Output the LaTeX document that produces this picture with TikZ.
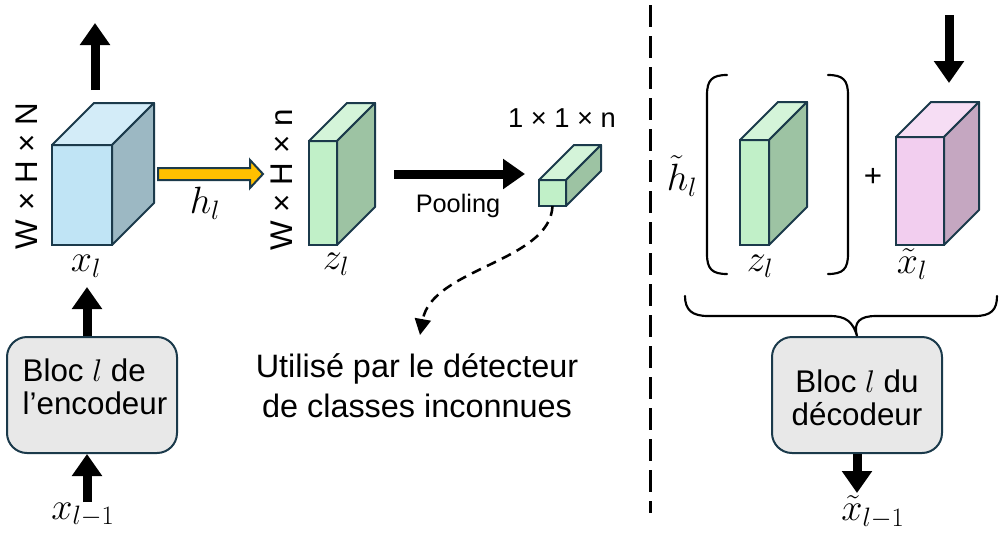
\documentclass[tikz,border=0pt]{standalone}
\usepackage{fix-cm}
\usepackage{fontspec}
\setmainfont{Liberation Sans}
\usetikzlibrary{arrows.meta}
\definecolor{edge}{HTML}{1B3A4B}
\definecolor{bluefront}{HTML}{C0E4F5}
\definecolor{blueside}{HTML}{9CB8C3}
\definecolor{greenfront}{HTML}{C1F0C8}
\definecolor{greenside}{HTML}{9DC3A3}
\definecolor{pinkfront}{HTML}{F2CEEF}
\definecolor{pinkside}{HTML}{C5A7C1}
\definecolor{boxfill}{HTML}{E8E8E8}
\definecolor{arrowyellow}{HTML}{FFC000}
% name, x, y (front top-left), w, h, depth, front colour, side colour
\newcommand{\mycube}[8]{%
  \node[cubeface, fill=#7, minimum width=#4*0.75pt, minimum height=#5*0.75pt, anchor=north west] (#1) at (#2,#3) {};
  \filldraw[cubeline, fill=#7!70!white] (#2,#3) -- ++(#6,-#6) -- ++(#4,0) -- ++(-#6,#6) -- cycle;
  \filldraw[cubeline, fill=#8] (#2+#4,#3) -- ++(#6,-#6) -- ++(0,#5) -- ++(-#6,#6) -- cycle;
}
\tikzset{
  cubeline/.style={draw=edge, line width=1.5pt, line join=round},
  cubeface/.style={draw=edge, line width=1.5pt, inner sep=0pt, outer sep=0pt},
  blk/.style={line width=6.75pt, -{Triangle[width=21.75pt,length=16.5pt]}},
  blockbox/.style={draw=edge, fill=boxfill, line width=1.5pt, rounded corners=15pt, minimum width=127.5pt, minimum height=87pt},
  bigtxt/.style={font=\fontsize{23.5}{25}\selectfont, inner sep=0pt},
  midtxt/.style={font=\fontsize{19}{22}\selectfont, inner sep=0pt},
  mathtxt/.style={font=\fontsize{28.5}{30}\selectfont, inner sep=0pt},
  dashedarrow/.style={line width=1.9pt, dash pattern=on 7.5pt off 5pt, -{Triangle[width=12pt,length=12pt]}},
  bracket/.style={line width=1.6pt, line cap=round},
}
\begin{document}
\begin{tikzpicture}[x=0.75pt,y=-0.75pt]
\useasboundingbox (0,0) rectangle (999,536);

% ---------- encoder side ----------
\mycube{xcube}{52}{145}{60}{100}{42}{bluefront}{blueside}
\node[bigtxt, rotate=90] (dimN) at (27,176) {W × H × N};
\node[mathtxt] (xl) at (86,266) {$x_l$};

\coordinate (topout0) at (95,90);
\coordinate (topout1) at (95,23);
\draw[blk] (topout0) -- (topout1);

\node[blockbox] (enc) at (92,395) {};
\node[bigtxt, align=left] (enctxt) at (95,387) {Bloc $l$ de\\l’encodeur};
\coordinate (encin) at (87,502);
\coordinate (xltip) at (87,287);
\draw[blk] (encin) -- (encin |- enc.south);
\draw[blk] (enc.north -| encin) -- (xltip);
\node[mathtxt] (xlm1) at (83,515) {$x_{l-1}$};

% yellow h_l arrow
\filldraw[draw=edge, fill=arrowyellow, line width=1.5pt, line join=miter]
  (158,168) -- (250,168) -- (250,160) -- (263,174) -- (250,188) -- (250,180) -- (158,180) -- cycle;
\node[mathtxt] (hl) at (205,203) {$h_l$};

% z_l slab
\mycube{zslab}{309}{141}{28}{104}{38}{greenfront}{greenside}
\node[bigtxt, rotate=90] (dimn) at (282,180) {W × H × n};
\node[mathtxt] (zl) at (336,264) {$z_l$};

% pooling
\coordinate (pool0) at (394,174);
\coordinate (pool1) at (525,174);
\draw[blk] (pool0) -- (pool1);
\node[midtxt] (pooltxt) at (458,206) {Pooling};

\mycube{small}{539}{180}{27}{26}{35}{greenfront}{greenside}
\node[midtxt, font=\fontsize{20.5}{22}\selectfont] (dim11n) at (562,118) {1 × 1 × n};

\coordinate (dashend) at (420,335);
\draw[dashedarrow] (small.south) .. controls (550,262) and (432,268) .. (dashend);
\node[bigtxt, align=center, font=\fontsize{24.3}{30}\selectfont] (usage) at (417,386)
  {Utilisé par le détecteur\\de classes inconnues};

% separator
\draw[line width=2.25pt, dash pattern=on 16.5pt off 6.75pt] (650,5) -- (650,513);

% ---------- decoder side ----------
\node[mathtxt] (htl) at (682,176) {$\tilde{h}_l$};
\draw[bracket] (727,75) .. controls (712,75) and (707,80) .. (707,95) -- (707,254) .. controls (707,269) and (712,274) .. (727,274);
\draw[bracket] (828,75) .. controls (843,75) and (848,80) .. (848,95) -- (848,254) .. controls (848,269) and (843,274) .. (828,274);
\mycube{zslab2}{740}{140}{29}{105}{38}{greenfront}{greenside}
\node[mathtxt] (zl2) at (760,266) {$z_l$};
\node[bigtxt] (plus) at (873,177) {+};
\mycube{pcube}{896}{137}{48}{108}{35}{pinkfront}{pinkside}
\node[mathtxt] (xtl) at (912,264) {$\tilde{x}_l$};

\coordinate (rin0) at (949,15);
\coordinate (rin1) at (949,83);
\draw[blk] (rin0) -- (rin1);

\node[blockbox] (dec) at (857,395) {};
\node[bigtxt, align=center] (dectxt) at (857,398) {Bloc $l$ du\\décodeur};

\draw[bracket] (685,296) .. controls (685,310) and (692,316) .. (708,316) -- (830,316)
  .. controls (846,316) and (853,322) .. (dec.north)
  .. controls (853,322) and (860,316) .. (876,316) -- (975,316)
  .. controls (991,316) and (997,310) .. (997,296);

\coordinate (decout) at (857,493);
\draw[blk] (dec.south) -- (decout);
\node[mathtxt] (xtlm1) at (873,512) {$\tilde{x}_{l-1}$};
\end{tikzpicture}
\end{document}
